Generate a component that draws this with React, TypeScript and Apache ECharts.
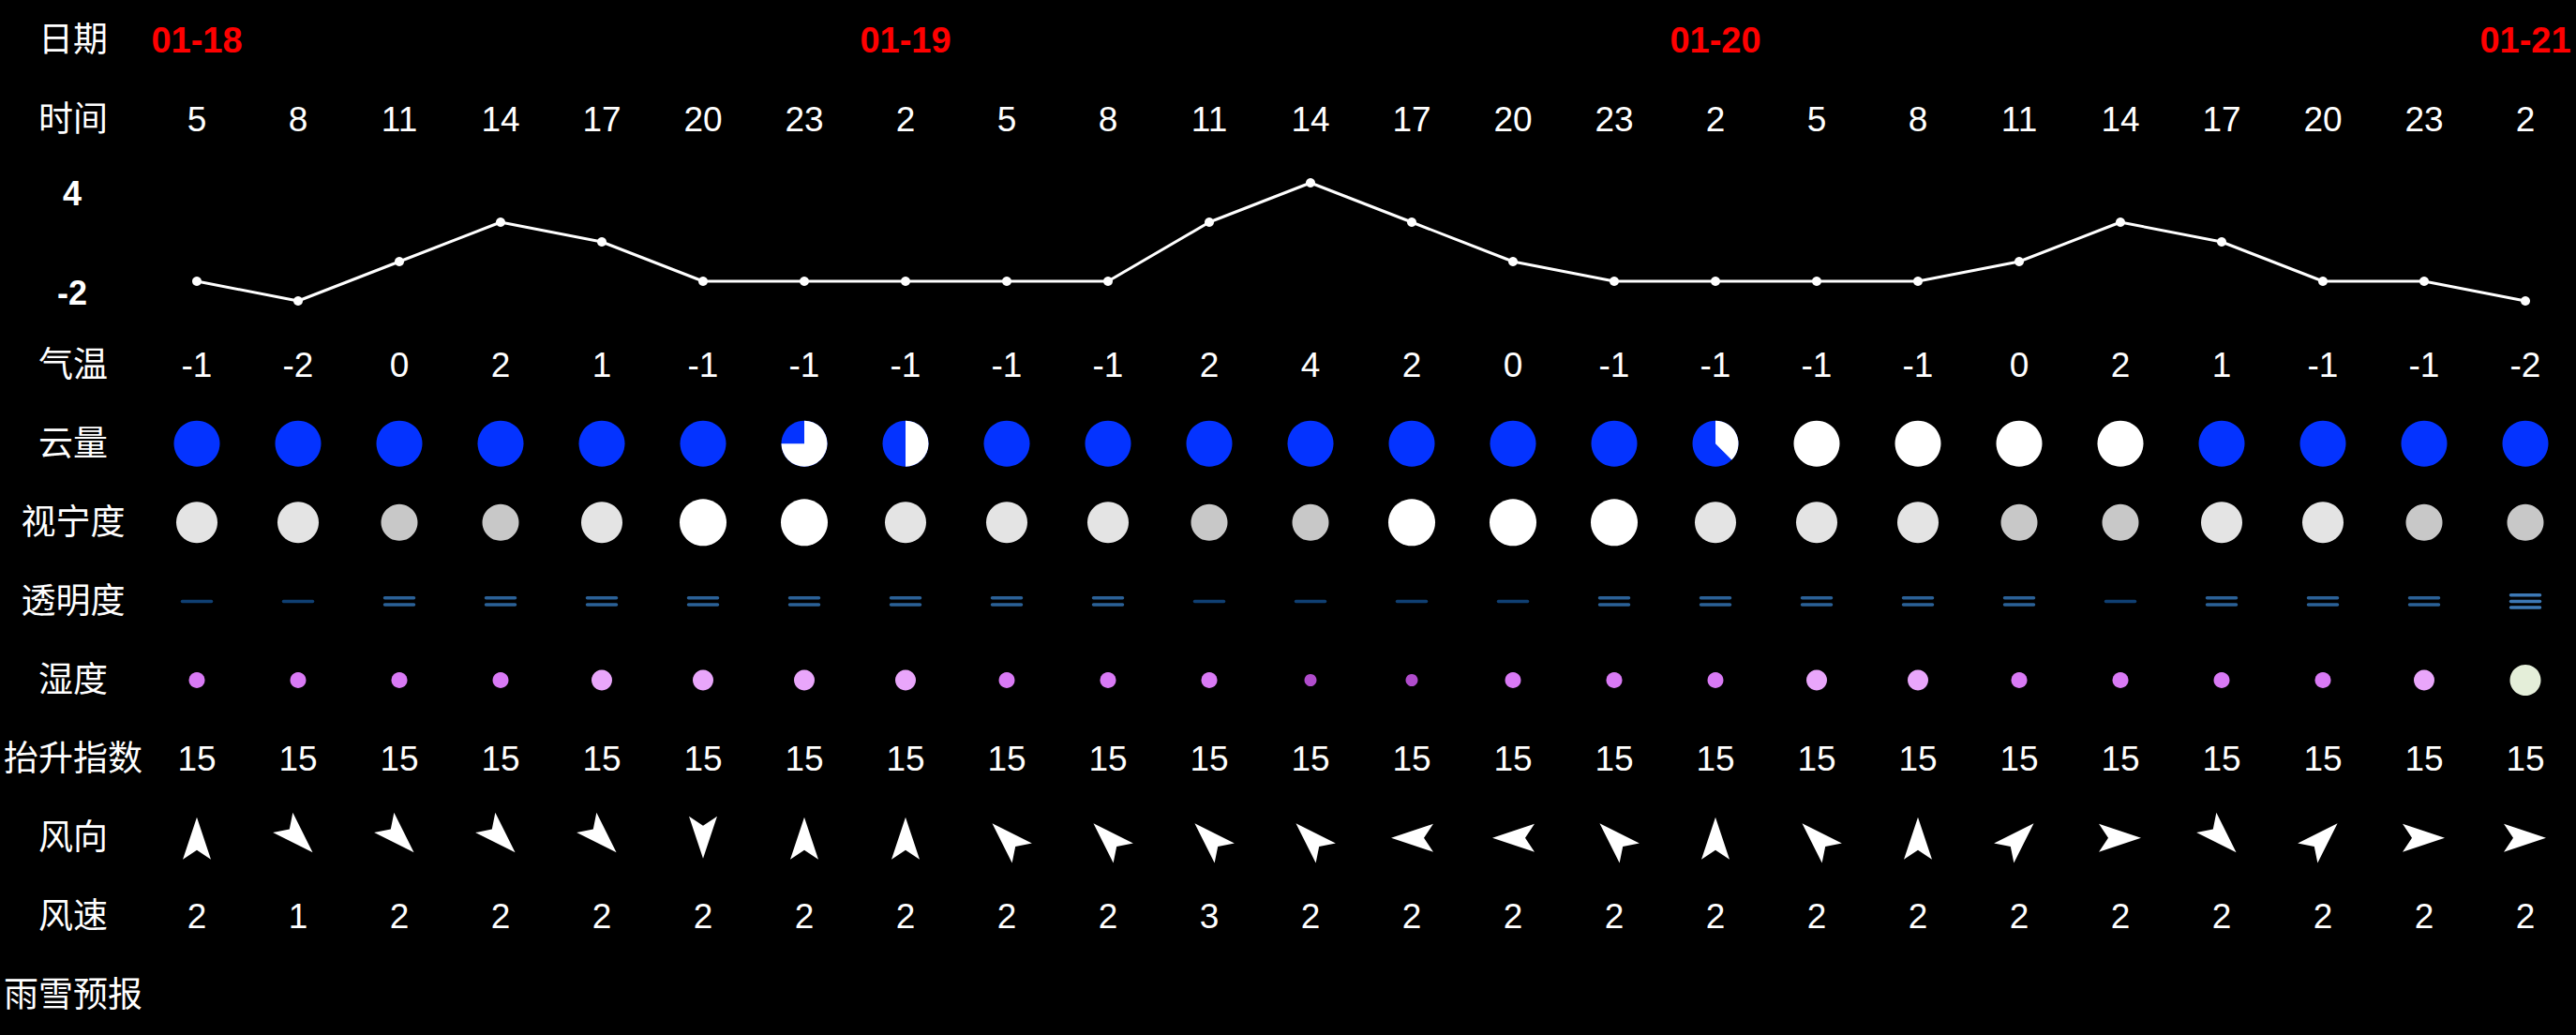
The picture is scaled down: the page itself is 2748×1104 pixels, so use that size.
import React, { useEffect, useRef } from "react";
import * as echarts from "echarts";

// ---- data ----
const dateLabels = ["01-18", "", "", "", "", "", "", "01-19", "", "", "", "", "", "", "", "01-20", "", "", "", "", "", "", "", "01-21"];
const hours = [5, 8, 11, 14, 17, 20, 23, 2, 5, 8, 11, 14, 17, 20, 23, 2, 5, 8, 11, 14, 17, 20, 23, 2];
const temperature = [-1, -2, 0, 2, 1, -1, -1, -1, -1, -1, 2, 4, 2, 0, -1, -1, -1, -1, 0, 2, 1, -1, -1, -2];
const cloudCover = [1, 1, 1, 1, 1, 1, 7, 5, 1, 1, 1, 1, 1, 1, 1, 4, 9, 9, 9, 9, 1, 1, 1, 1]; // 1..9
const seeing = [3, 3, 4, 4, 3, 2, 2, 3, 3, 3, 4, 4, 2, 2, 2, 3, 3, 3, 4, 4, 3, 3, 4, 4];
const transparency = [1, 1, 2, 2, 2, 2, 2, 2, 2, 2, 1, 1, 1, 1, 2, 2, 2, 2, 2, 1, 2, 2, 2, 3];
const humidity = [2, 2, 2, 2, 3, 3, 3, 3, 2, 2, 2, 1, 1, 2, 2, 2, 3, 3, 2, 2, 2, 2, 3, 4];
const liftedIndex = [15, 15, 15, 15, 15, 15, 15, 15, 15, 15, 15, 15, 15, 15, 15, 15, 15, 15, 15, 15, 15, 15, 15, 15];
const windDir = ["N", "SE", "SE", "SE", "SE", "S", "N", "N", "NW", "NW", "NW", "NW", "W", "W", "NW", "N", "NW", "N", "NE", "E", "SE", "NE", "E", "E"];
const windSpeed = [2, 1, 2, 2, 2, 2, 2, 2, 2, 2, 3, 2, 2, 2, 2, 2, 2, 2, 2, 2, 2, 2, 2, 2];
const topRows = ["日期", "时间"];
const bottomRows = ["气温", "云量", "视宁度", "透明度", "湿度", "抬升指数", "风向", "风速", "雨雪预报"];
const tempTicks = [-2, 4];

// ---- styles ----
const FONT = "'Liberation Sans', Arial, 'Noto Sans CJK SC', sans-serif";
const seeingStyle: Record<number, { size: number; color: string }> = {
  2: { size: 50, color: "#ffffff" },
  3: { size: 44, color: "#e4e4e4" },
  4: { size: 39, color: "#c8c8c8" },
};
const humidityStyle: Record<number, { size: number; color: string }> = {
  1: { size: 13, color: "#b04ccc" },
  2: { size: 17, color: "#d97af5" },
  3: { size: 22, color: "#e9a6fb" },
  4: { size: 33, color: "#e4eed9" },
};
const transpColor: Record<number, string> = { 1: "#0f3f72", 2: "#2b6197", 3: "#3d79b6" };
const dirBearing: Record<string, number> = { N: 0, NE: 45, E: 90, SE: 135, S: 180, SW: 225, W: 270, NW: 315 };
const CLOUD_BLUE = "#0433ff";

export default function App() {
  const ref = useRef<HTMLDivElement>(null);

  useEffect(() => {
    document.body.style.margin = "0";
    document.body.style.background = "#000";
    const chart = echarts.init(ref.current!, undefined, { renderer: "svg" });
    const cols = hours.map((h) => String(h));
    const row = (name: string) => bottomRows.indexOf(name);

    const textRow = (
      xi: number,
      yi: number,
      y: number,
      values: (string | number)[],
      extra: any = {}
    ) => ({
      type: "scatter",
      xAxisIndex: xi,
      yAxisIndex: yi,
      symbolSize: 1,
      itemStyle: { color: "rgba(0,0,0,0)", opacity: 1 },
      silent: true,
      data: values
        .map((v, i) => ({ value: [i, y], name: String(v) }))
        .filter((d) => d.name !== ""),
      label: {
        show: true,
        position: "inside",
        formatter: "{b}",
        color: "#fff",
        opacity: 1,
        fontSize: 37,
        fontFamily: FONT,
        ...extra,
      },
    });

    const catY = (gridIndex: number, data: string[]) => ({
      type: "category",
      gridIndex,
      data,
      inverse: true,
      axisLine: { show: false },
      axisTick: { show: false },
      splitLine: { show: false },
      axisLabel: {
        color: "#fff",
        fontSize: 37,
        fontFamily: FONT,
        align: "center",
        margin: 78,
      },
    });

    const hiddenX = (gridIndex: number) => ({
      type: "category",
      gridIndex,
      data: cols,
      boundaryGap: true,
      show: false,
    });

    const arrowPts = [
      [0, -22],
      [15, 23],
      [0, 13],
      [-15, 23],
    ];

    const option: any = {
      animation: false,
      backgroundColor: "#000",
      grid: [
        { left: 156, right: 0, top: 0, height: 170 },
        { left: 156, right: 0, top: 195, height: 126 },
        { left: 156, right: 0, top: 347, height: 757 },
      ],
      xAxis: [hiddenX(0), hiddenX(1), hiddenX(2)],
      yAxis: [
        catY(0, topRows),
        {
          type: "value",
          gridIndex: 1,
          min: tempTicks[0],
          max: tempTicks[1],
          interval: tempTicks[1] - tempTicks[0],
          axisLine: { show: false },
          axisTick: { show: false },
          splitLine: { show: false },
          axisLabel: {
            align: "center",
            margin: 79,
            formatter: (v: number) => (v === tempTicks[1] ? `{max|${v}}` : `{min|${v}}`),
            rich: {
              max: { color: "#fff", fontSize: 36, fontWeight: "bold", fontFamily: FONT, padding: [22, 0, 0, 0] },
              min: { color: "#fff", fontSize: 36, fontWeight: "bold", fontFamily: FONT, padding: [0, 0, 18, 0] },
            },
          },
        },
        catY(2, bottomRows),
      ],
      series: [
        textRow(0, 0, 0, dateLabels, { color: "#ff0000", fontWeight: "bold", fontSize: 38 }),
        textRow(0, 0, 1, hours),
        {
          type: "line",
          xAxisIndex: 1,
          yAxisIndex: 1,
          data: temperature,
          symbol: "circle",
          symbolSize: 10,
          lineStyle: { color: "#fff", width: 3 },
          itemStyle: { color: "#fff", opacity: 1 },
          silent: true,
        },
        textRow(2, 2, row("气温"), temperature),
        {
          type: "custom",
          xAxisIndex: 2,
          yAxisIndex: 2,
          silent: true,
          data: cloudCover.map((c, i) => [i, row("云量"), c]),
          renderItem: (params: any, api: any) => {
            const p = api.coord([api.value(0), api.value(1)]);
            const frac = (api.value(2) - 1) / 8;
            const r = 24.5;
            const children: any[] = [
              { type: "circle", shape: { cx: p[0], cy: p[1], r }, style: { fill: frac >= 1 ? "#fff" : CLOUD_BLUE } },
            ];
            if (frac > 0 && frac < 1) {
              children.push({
                type: "sector",
                shape: {
                  cx: p[0],
                  cy: p[1],
                  r,
                  r0: 0,
                  startAngle: -Math.PI / 2,
                  endAngle: -Math.PI / 2 + frac * Math.PI * 2,
                  clockwise: true,
                },
                style: { fill: "#fff" },
              });
            }
            return { type: "group", children };
          },
        },
        {
          type: "scatter",
          xAxisIndex: 2,
          yAxisIndex: 2,
          silent: true,
          data: seeing.map((s, i) => ({
            value: [i, row("视宁度")],
            symbolSize: seeingStyle[s].size,
            itemStyle: { color: seeingStyle[s].color, opacity: 1 },
          })),
        },
        {
          type: "custom",
          xAxisIndex: 2,
          yAxisIndex: 2,
          silent: true,
          data: transparency.map((t, i) => [i, row("透明度"), t]),
          renderItem: (params: any, api: any) => {
            const p = api.coord([api.value(0), api.value(1)]);
            const n = api.value(2);
            const gap = n === 3 ? 6.7 : 7.3;
            const children: any[] = [];
            for (let k = 0; k < n; k++) {
              const y = p[1] + (k - (n - 1) / 2) * gap;
              children.push({
                type: "line",
                shape: { x1: p[0] - 15.5, y1: y, x2: p[0] + 15.5, y2: y },
                style: { stroke: transpColor[n], lineWidth: 3.5, lineCap: "round" },
              });
            }
            return { type: "group", children };
          },
        },
        {
          type: "scatter",
          xAxisIndex: 2,
          yAxisIndex: 2,
          silent: true,
          data: humidity.map((h, i) => ({
            value: [i, row("湿度")],
            symbolSize: humidityStyle[h].size,
            itemStyle: { color: humidityStyle[h].color, opacity: 1 },
          })),
        },
        textRow(2, 2, row("抬升指数"), liftedIndex),
        {
          type: "custom",
          xAxisIndex: 2,
          yAxisIndex: 2,
          silent: true,
          data: windDir.map((d, i) => [i, row("风向"), dirBearing[d]]),
          renderItem: (params: any, api: any) => {
            const p = api.coord([api.value(0), api.value(1)]);
            const th = (api.value(2) * Math.PI) / 180;
            const c = Math.cos(th);
            const s = Math.sin(th);
            const points = arrowPts.map(([x, y]) => [p[0] + x * c - y * s, p[1] + x * s + y * c]);
            return { type: "polygon", shape: { points }, style: { fill: "#fff" } };
          },
        },
        textRow(2, 2, row("风速"), windSpeed),
      ],
    };

    chart.setOption(option);
    return () => chart.dispose();
  }, []);

  return (
    <div
      ref={ref}
      style={{ position: "absolute", left: 0, top: 0, width: 2748, height: 1104, background: "#000" }}
    />
  );
}
